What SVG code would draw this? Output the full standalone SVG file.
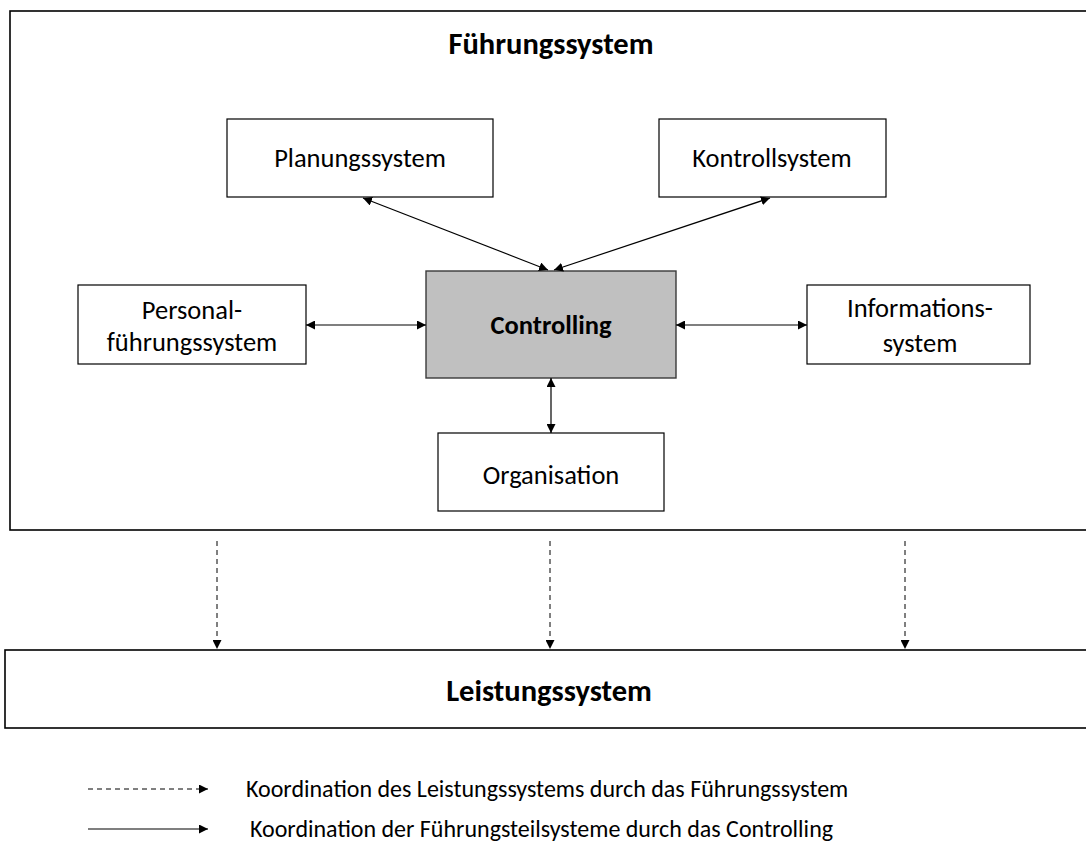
<svg xmlns="http://www.w3.org/2000/svg" width="1086" height="847" viewBox="0 0 1086 847">
  <style>
    .frame { fill: #ffffff; stroke: #000000; stroke-width: 1.6; }
    .box { fill: #ffffff; stroke: #000000; stroke-width: 1.2; }
    .core { fill: #c0c0c0; stroke: #3a3a3a; stroke-width: 1.4; }
    .lbl { font-family: Carlito, Lato, "Open Sans", sans-serif; font-size: 26.5px; fill: #000000; text-anchor: middle; }
    .bold { font-weight: bold; }
    .title { font-size: 30.5px; }
    .legend { font-family: Carlito, Lato, "Open Sans", sans-serif; font-size: 24px; fill: #000000; }
    .link { stroke: #000000; stroke-width: 1.2; fill: none; }
    .dash { stroke: #000000; stroke-width: 1; fill: none; stroke-dasharray: 5 4; }
  </style>
  <defs>
    <marker id="head" viewBox="0 0 10 10" refX="10" refY="5" markerWidth="9" markerHeight="9" markerUnits="userSpaceOnUse" orient="auto-start-reverse">
      <path d="M0,0 L10,5 L0,10 z" fill="#000000"/>
    </marker>
  </defs>

  <rect width="1086" height="847" fill="#ffffff"/>

  <!-- management system frame -->
  <g id="fuehrungssystem">
    <rect class="frame" x="10" y="11" width="1090" height="519"/>
    <text class="lbl bold title" x="551" y="54">Führungssystem</text>
  </g>

  <g id="planungssystem">
    <rect class="box" x="227" y="119" width="266" height="78"/>
    <text class="lbl" x="360" y="167">Planungssystem</text>
  </g>

  <g id="kontrollsystem">
    <rect class="box" x="659" y="119" width="227" height="78"/>
    <text class="lbl" x="772" y="167">Kontrollsystem</text>
  </g>

  <g id="personalfuehrungssystem">
    <rect class="box" x="78" y="285" width="228" height="79"/>
    <text class="lbl" x="192" y="319">Personal-</text>
    <text class="lbl" x="192" y="351">führungssystem</text>
  </g>

  <g id="controlling">
    <rect class="core" x="426" y="271" width="250" height="107"/>
    <text class="lbl bold" x="551" y="334">Controlling</text>
  </g>

  <g id="informationssystem">
    <rect class="box" x="807" y="285" width="223" height="79"/>
    <text class="lbl" x="920" y="317">Informations-</text>
    <text class="lbl" x="920" y="352">system</text>
  </g>

  <g id="organisation">
    <rect class="box" x="438" y="433" width="226" height="78"/>
    <text class="lbl" x="551" y="484">Organisation</text>
  </g>

  <!-- performance system -->
  <g id="leistungssystem">
    <rect class="frame" x="5" y="650" width="1095" height="78"/>
    <text class="lbl bold title" x="549" y="701">Leistungssystem</text>
  </g>

  <!-- connectors -->
  <g id="connectors">
    <line class="link" x1="363" y1="198" x2="548" y2="270" marker-start="url(#head)" marker-end="url(#head)"/>
    <line class="link" x1="770" y1="198" x2="554" y2="270" marker-start="url(#head)" marker-end="url(#head)"/>
    <line class="link" x1="306" y1="325" x2="426" y2="325" marker-start="url(#head)" marker-end="url(#head)"/>
    <line class="link" x1="676" y1="325" x2="807" y2="325" marker-start="url(#head)" marker-end="url(#head)"/>
    <line class="link" x1="551" y1="378" x2="551" y2="433" marker-start="url(#head)" marker-end="url(#head)"/>
    <line class="dash" x1="217" y1="541" x2="217" y2="649" marker-end="url(#head)"/>
    <line class="dash" x1="550" y1="541" x2="550" y2="649" marker-end="url(#head)"/>
    <line class="dash" x1="905" y1="541" x2="905" y2="649" marker-end="url(#head)"/>
  </g>

  <!-- legend -->
  <g id="legende">
    <line class="dash" x1="88" y1="789" x2="208" y2="789" stroke-dasharray="4 3" marker-end="url(#head)"/>
    <text class="legend" x="246" y="797">Koordination des Leistungssystems durch das Führungssystem</text>
    <line class="link" x1="88" y1="829" x2="208" y2="829" marker-end="url(#head)"/>
    <text class="legend" x="250" y="837">Koordination der Führungsteilsysteme durch das Controlling</text>
  </g>
</svg>
